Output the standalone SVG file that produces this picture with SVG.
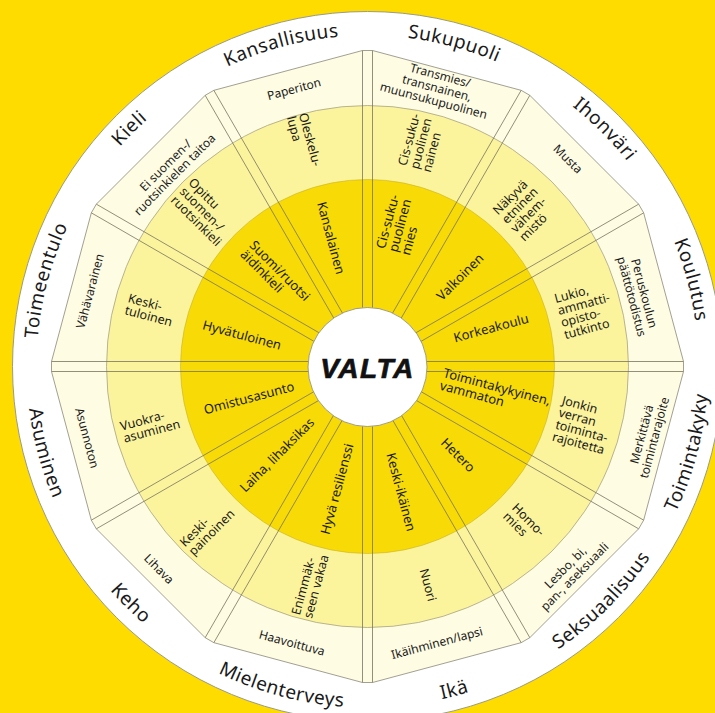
<svg xmlns="http://www.w3.org/2000/svg" xmlns:xlink="http://www.w3.org/1999/xlink" width="715" height="713" viewBox="0 0 715 713">
<style>
text{font-family:"Noto Sans","Open Sans",sans-serif;fill:#1a1a1a}
.c{font-size:19px;letter-spacing:.5px}
.d{font-size:13px}
.m{font-size:12.5px}
.l{font-size:12px}
.mid{text-anchor:middle}
.sep{stroke:#77745f;stroke-width:.8;fill:none}
</style>
<defs>
<path id="a-kou" d="M654.15 201 A331 331 0 0 1 698.5 366.5"/>
<path id="a-iho" d="M533 79.85 A331 331 0 0 1 654.15 201"/>
<path id="a-suk" d="M367.5 35.5 A331 331 0 0 1 533 79.85"/>
<path id="a-kan" d="M202 79.85 A331 331 0 0 1 367.5 35.5"/>
<path id="a-kie" d="M80.85 201 A331 331 0 0 1 202 79.85"/>
<path id="a-toi" d="M36.5 366.5 A331 331 0 0 1 80.85 201"/>
<path id="a-asu" d="M26.5 366.5 A341 341 0 0 0 72.2 537"/>
<path id="a-keh" d="M72.2 537 A341 341 0 0 0 197 661.8"/>
<path id="a-mie" d="M197 661.8 A341 341 0 0 0 367.5 707.5"/>
<path id="a-ika" d="M367.5 707.5 A341 341 0 0 0 538 661.8"/>
<path id="a-sek" d="M538 661.8 A341 341 0 0 0 662.8 537"/>
<path id="a-tk" d="M662.8 537 A341 341 0 0 0 708.5 366.5"/>
</defs>
<rect width="715" height="713" fill="#FFDC00"/>
<g id="rings">
<circle cx="367.5" cy="366.5" r="355" fill="#fff" stroke="#9a9a8a" stroke-width="1"/>
<polygon points="683.5,371.5 683.5,361.5 643.66,212.83 638.66,204.17 529.83,95.34 521.17,90.34 372.5,50.5 362.5,50.5 213.83,90.34 205.17,95.34 96.34,204.17 91.34,212.83 51.5,361.5 51.5,371.5 91.34,520.17 96.34,528.83 205.17,637.66 213.83,642.66 362.5,682.5 372.5,682.5 521.17,642.66 529.83,637.66 638.66,528.83 643.66,520.17" fill="#FEFCE3" stroke="#8a8878" stroke-width=".8"/>
<circle cx="367.5" cy="366.5" r="261" fill="#FCF49C" stroke="#9a9680" stroke-width=".7"/>
<circle cx="367.5" cy="366.5" r="187" fill="#F7DA06" stroke="#c8b430" stroke-width=".6"/>
</g>
<g id="connectors" class="sep">
<line x1="417.5" y1="371.5" x2="683.5" y2="371.5"/><line x1="417.5" y1="361.5" x2="683.5" y2="361.5"/>
<line x1="413.3" y1="345.83" x2="643.66" y2="212.83"/><line x1="408.3" y1="337.17" x2="638.66" y2="204.17"/>
<line x1="396.83" y1="325.7" x2="529.83" y2="95.34"/><line x1="388.17" y1="320.7" x2="521.17" y2="90.34"/>
<line x1="372.5" y1="316.5" x2="372.5" y2="50.5"/><line x1="362.5" y1="316.5" x2="362.5" y2="50.5"/>
<line x1="346.83" y1="320.7" x2="213.83" y2="90.34"/><line x1="338.17" y1="325.7" x2="205.17" y2="95.34"/>
<line x1="326.7" y1="337.17" x2="96.34" y2="204.17"/><line x1="321.7" y1="345.83" x2="91.34" y2="212.83"/>
<line x1="317.5" y1="361.5" x2="51.5" y2="361.5"/><line x1="317.5" y1="371.5" x2="51.5" y2="371.5"/>
<line x1="321.7" y1="387.17" x2="91.34" y2="520.17"/><line x1="326.7" y1="395.83" x2="96.34" y2="528.83"/>
<line x1="338.17" y1="407.3" x2="205.17" y2="637.66"/><line x1="346.83" y1="412.3" x2="213.83" y2="642.66"/>
<line x1="362.5" y1="416.5" x2="362.5" y2="682.5"/><line x1="372.5" y1="416.5" x2="372.5" y2="682.5"/>
<line x1="388.17" y1="412.3" x2="521.17" y2="642.66"/><line x1="396.83" y1="407.3" x2="529.83" y2="637.66"/>
<line x1="408.3" y1="395.83" x2="638.66" y2="528.83"/><line x1="413.3" y1="387.17" x2="643.66" y2="520.17"/>
</g>
<g id="valta">
<circle cx="367.5" cy="367" r="59.5" fill="#fff" stroke="#8a8878" stroke-width=".8"/>
<text x="367.5" y="378" text-anchor="middle" style="font-family:'Liberation Sans',Arial,sans-serif;font-size:28px;font-weight:bold;font-style:italic;letter-spacing:1.5px;fill:#111;stroke:#111;stroke-width:.7">VALTA</text>
</g>
<g id="kansallisuus">
<text class="c"><textPath href="#a-kan" startOffset="50%" text-anchor="middle">Kansallisuus</textPath></text>
<text class="d mid" transform="translate(331 238) rotate(75)" y="4.55">Kansalainen</text>
<text class="m" transform="translate(304 141) rotate(75)"><tspan x="-27.3" y="-1.9">Oleskelu-</tspan><tspan x="-27.3" y="10.6">lupa</tspan></text>
<text class="l mid" transform="translate(294 89) rotate(-15)" y="4.2">Paperiton</text>
</g>
<g id="sukupuoli">
<text class="c"><textPath href="#a-suk" startOffset="50%" text-anchor="middle">Sukupuoli</textPath></text>
<text class="d" transform="translate(400 225) rotate(-75)"><tspan x="-27.5" y="-8.45">Cis-suku-</tspan><tspan x="-27.5" y="4.55">puolinen</tspan><tspan x="-27.5" y="17.55">mies</tspan></text>
<text class="m" transform="translate(421 143) rotate(-75)"><tspan x="-26.5" y="-8.1">Cis-suku-</tspan><tspan x="-26.5" y="4.4">puolinen</tspan><tspan x="-26.5" y="16.9">nainen</tspan></text>
<text class="l mid" transform="translate(437 88) rotate(15)"><tspan x="0" y="-8.8">Transmies/</tspan><tspan x="0" y="4.2">transnainen,</tspan><tspan x="0" y="17.2">muunsukupuolinen</tspan></text>
</g>
<g id="ihonvari">
<text class="c"><textPath href="#a-iho" startOffset="50%" text-anchor="middle">Ihonväri</textPath></text>
<text class="d mid" transform="translate(460 277) rotate(-45)" y="4.55">Valkoinen</text>
<text class="m" transform="translate(524 210) rotate(-45)"><tspan x="-22.3" y="-14.4">Näkyvä</tspan><tspan x="-22.3" y="-1.9">etninen</tspan><tspan x="-22.3" y="10.6">vähem-</tspan><tspan x="-22.3" y="23.1">mistö</tspan></text>
<text class="l mid" transform="translate(568 159) rotate(45)" y="4.2">Musta</text>
</g>
<g id="koulutus">
<text class="c"><textPath href="#a-kou" startOffset="50%" text-anchor="middle">Koulutus</textPath></text>
<text class="d mid" transform="translate(491 328) rotate(-15)" y="4.55">Korkeakoulu</text>
<text class="m" transform="translate(585 310) rotate(-15)"><tspan x="-26.5" y="-14.4">Lukio,</tspan><tspan x="-26.5" y="-1.9">ammatti-</tspan><tspan x="-26.5" y="10.6">opisto-</tspan><tspan x="-26.5" y="23.1">tutkinto</tspan></text>
<text class="l mid" transform="translate(638 295) rotate(75)"><tspan x="0" y="-2.3">Peruskoulun</tspan><tspan x="0" y="10.7">päättötodistus</tspan></text>
</g>
<g id="toimintakyky">
<text class="c"><textPath href="#a-tk" startOffset="50%" text-anchor="middle">Toimintakyky</textPath></text>
<text class="d" transform="translate(495 393) rotate(15)"><tspan x="-55" y="-1.95">Toimintakykyinen,</tspan><tspan x="-55" y="11.05">vammaton</tspan></text>
<text class="m" transform="translate(583 425) rotate(15)"><tspan x="-26.5" y="-14.4">Jonkin</tspan><tspan x="-26.5" y="-1.9">verran</tspan><tspan x="-26.5" y="10.6">toiminta-</tspan><tspan x="-26.5" y="23.1">rajoitetta</tspan></text>
<text class="l mid" transform="translate(648 436) rotate(-75)"><tspan x="0" y="-2.3">Merkittävä</tspan><tspan x="0" y="10.7">toimintarajoite</tspan></text>
</g>
<g id="seksuaalisuus">
<text class="c"><textPath href="#a-sek" startOffset="50%" text-anchor="middle">Seksuaalisuus</textPath></text>
<text class="d mid" transform="translate(458 455) rotate(45)" y="4.55">Hetero</text>
<text class="m" transform="translate(524 524) rotate(45)"><tspan x="-20" y="-1.9">Homo-</tspan><tspan x="-20" y="10.6">mies</tspan></text>
<text class="l mid" transform="translate(570 572) rotate(-45)"><tspan x="0" y="-2.3">Lesbo, bi,</tspan><tspan x="0" y="10.7">pan-, aseksuaali</tspan></text>
</g>
<g id="ika">
<text class="c"><textPath href="#a-ika" startOffset="50%" text-anchor="middle">Ikä</textPath></text>
<text class="d mid" transform="translate(401 492) rotate(75)" y="4.55">Keski-ikäinen</text>
<text class="m mid" transform="translate(428 585) rotate(75)" y="4.4">Nuori</text>
<text class="l mid" transform="translate(437 643) rotate(-15)" y="4.2">Ikäihminen/lapsi</text>
</g>
<g id="mielenterveys">
<text class="c"><textPath href="#a-mie" startOffset="50%" text-anchor="middle">Mielenterveys</textPath></text>
<text class="d mid" transform="translate(337 489) rotate(-75)" y="4.55">Hyvä resilienssi</text>
<text class="m" transform="translate(310 585) rotate(-75)"><tspan x="-32.4" y="-1.9">Enimmäk-</tspan><tspan x="-32.4" y="10.6">seen vakaa</tspan></text>
<text class="l mid" transform="translate(292 643) rotate(15)" y="4.2">Haavoittuva</text>
</g>
<g id="keho">
<text class="c"><textPath href="#a-keh" startOffset="50%" text-anchor="middle">Keho</textPath></text>
<text class="d mid" transform="translate(277 455) rotate(-45)" y="4.55">Laiha, lihaksikas</text>
<text class="m" transform="translate(207 528) rotate(-45)"><tspan x="-29.3" y="-1.9">Keski-</tspan><tspan x="-29.3" y="10.6">painoinen</tspan></text>
<text class="l mid" transform="translate(159 569) rotate(45)" y="4.2">Lihava</text>
</g>
<g id="asuminen">
<text class="c"><textPath href="#a-asu" startOffset="50%" text-anchor="middle">Asuminen</textPath></text>
<text class="d mid" transform="translate(249 398) rotate(-15)" y="4.55">Omistusasunto</text>
<text class="m" transform="translate(150 425) rotate(-15)"><tspan x="-28.9" y="-1.9">Vuokra-</tspan><tspan x="-28.9" y="10.6">asuminen</tspan></text>
<text class="l mid" transform="translate(87 438) rotate(75)" y="4.2">Asunnoton</text>
</g>
<g id="toimeentulo">
<text class="c"><textPath href="#a-toi" startOffset="50%" text-anchor="middle">Toimeentulo</textPath></text>
<text class="d mid" transform="translate(242 335) rotate(15)" y="4.55">Hyvätuloinen</text>
<text class="m" transform="translate(150 310) rotate(15)"><tspan x="-24.2" y="-1.9">Keski-</tspan><tspan x="-24.2" y="10.6">tuloinen</tspan></text>
<text class="l mid" transform="translate(90 291) rotate(-75)" y="4.2">Vähävarainen</text>
</g>
<g id="kieli">
<text class="c"><textPath href="#a-kie" startOffset="50%" text-anchor="middle">Kieli</textPath></text>
<text class="d" transform="translate(275 275) rotate(45)"><tspan x="-39" y="-1.95">Suomi/ruotsi</tspan><tspan x="-39" y="11.05">äidinkieli</tspan></text>
<text class="m" transform="translate(205 212) rotate(45)"><tspan x="-32.5" y="-8.1">Opittu</tspan><tspan x="-32.5" y="4.4">suomen-/</tspan><tspan x="-32.5" y="16.9">ruotsinkieli</tspan></text>
<text class="l mid" transform="translate(170 170) rotate(-45)"><tspan x="0" y="-2.3">Ei suomen-/</tspan><tspan x="0" y="10.7">ruotsinkielen taitoa</tspan></text>
</g>
</svg>
